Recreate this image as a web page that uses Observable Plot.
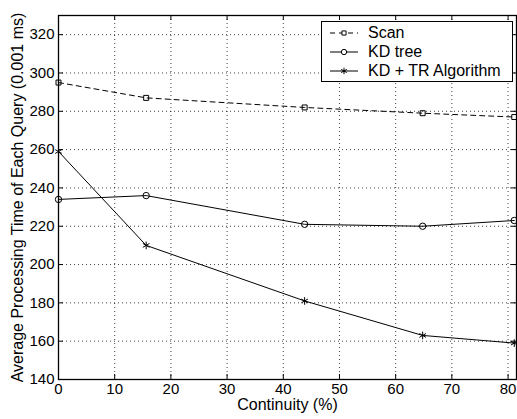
<!DOCTYPE html>
<html>
<head>
<meta charset="utf-8">
<script src="https://cdn.jsdelivr.net/npm/d3@7"></script>
<script src="https://cdn.jsdelivr.net/npm/@observablehq/plot@0.6"></script>
<style>
  html, body { margin: 0; padding: 0; background: #fff; }
  #wrap { position: relative; width: 517px; height: 419px; font-family: "Liberation Sans", Arial, Helvetica, sans-serif; }
  #legend { position: absolute; left: 321px; top: 21px; width: 190px; height: 58px; border: 1px solid #000; background: #fff; padding-top: 1px; }
  .row { display: flex; align-items: center; height: 19.3px; font-size: 16px; color: #000; }
  .row svg { margin-left: 8px; margin-right: 10px; }
</style>
</head>
<body>
<div id="wrap"></div>
<script>
// ---- data ----
const continuity = [0, 15.6, 43.8, 64.8, 81.1];
const scan = [295, 287, 282, 279, 277];
const kdTree = [234, 236, 221, 220, 223];
const kdTr = [259, 210, 181, 163, 159];
const seriesNames = ["Scan", "KD tree", "KD + TR Algorithm"];
const xTicks = [0, 10, 20, 30, 40, 50, 60, 70, 80];
const yTicks = [140, 160, 180, 200, 220, 240, 260, 280, 300, 320];
const xLabel = "Continuity (%)";
const yLabel = "Average Processing Time of Each Query (0.001 ms)";

// ---- layout ----
const W = 517, H = 419;
const mL = 58, mR = 1, mT = 15, mB = 40;
const innerW = W - mL - mR, innerH = H - mT - mB;

const seriesValues = [scan, kdTree, kdTr];
const symbols = ["square", "circle", "asterisk"];
const radii = [2.8, 3.2, 3.6];
const dashes = ["5,4", null, null];
const rows = [];
seriesNames.forEach((name, i) => {
  continuity.forEach((x, j) => rows.push({series: name, x, y: seriesValues[i][j]}));
});

const marks = [
  Plot.gridX(xTicks.slice(1), {stroke: "#000", strokeOpacity: 0.75, strokeDasharray: "1,3"}),
  Plot.gridY(yTicks.slice(1), {stroke: "#000", strokeOpacity: 0.75, strokeDasharray: "1,3"}),
  Plot.ruleX(xTicks, {x: d => d, insetTop: innerH - 5, stroke: "#000"}),
  Plot.ruleX(xTicks, {x: d => d, insetBottom: innerH - 5, stroke: "#000"}),
  Plot.ruleY(yTicks, {y: d => d, insetRight: innerW - 5, stroke: "#000"}),
  Plot.ruleY(yTicks, {y: d => d, insetLeft: innerW - 5, stroke: "#000"}),
  Plot.frame({stroke: "#000", strokeWidth: 1.3}),
  Plot.axisX(xTicks, {tickSize: 0, tickPadding: 4, label: null, fontSize: 15}),
  Plot.axisY(yTicks, {tickSize: 0, tickPadding: 4, label: null, fontSize: 15}),
  Plot.text([xLabel], {frameAnchor: "bottom", text: d => d, dy: 30, fontSize: 16, textAnchor: "middle"}),
  Plot.text([yLabel], {frameAnchor: "left", text: d => d, rotate: -90, dx: -41, fontSize: 16, textAnchor: "middle"})
];
seriesNames.forEach((name, i) => {
  const data = rows.filter(r => r.series === name);
  marks.push(Plot.line(data, {x: "x", y: "y", stroke: "#000", strokeWidth: 1, strokeDasharray: dashes[i]}));
  marks.push(Plot.dot(data, {x: "x", y: "y", symbol: () => symbols[i], r: radii[i], stroke: "#000", strokeWidth: 1, fill: i === 2 ? "#000" : "none"}));
});

const chart = Plot.plot({
  width: W, height: H,
  marginLeft: mL, marginRight: mR, marginTop: mT, marginBottom: mB,
  x: {domain: [0, 81.5], axis: null},
  y: {domain: [140, 330], axis: null},
  symbol: {type: "identity"},
  style: {fontFamily: '"Liberation Sans", Arial, Helvetica, sans-serif', fontSize: "15px", color: "#000", background: "#fff", overflow: "visible"},
  marks
});
const wrap = document.getElementById("wrap");
wrap.appendChild(chart);

// ---- legend (HTML overlay inside the plot area) ----
const legend = document.createElement("div");
legend.id = "legend";
seriesNames.forEach((name, i) => {
  const row = document.createElement("div");
  row.className = "row";
  const svg = d3.create("svg").attr("width", 28).attr("height", 10);
  svg.append("line").attr("x1", 0).attr("x2", 28).attr("y1", 5).attr("y2", 5)
    .attr("stroke", "#000").attr("stroke-width", 1).attr("stroke-dasharray", dashes[i]);
  const sym = [d3.symbolSquare, d3.symbolCircle, d3.symbolAsterisk][i];
  svg.append("path").attr("transform", "translate(14,5)")
    .attr("d", d3.symbol(sym, Math.PI * radii[i] * radii[i] * 0.7)())
    .attr("fill", i === 2 ? "#000" : "#fff").attr("stroke", "#000");
  row.appendChild(svg.node());
  const t = document.createElement("span");
  t.textContent = name;
  row.appendChild(t);
  legend.appendChild(row);
});
wrap.appendChild(legend);
</script>
</body>
</html>
